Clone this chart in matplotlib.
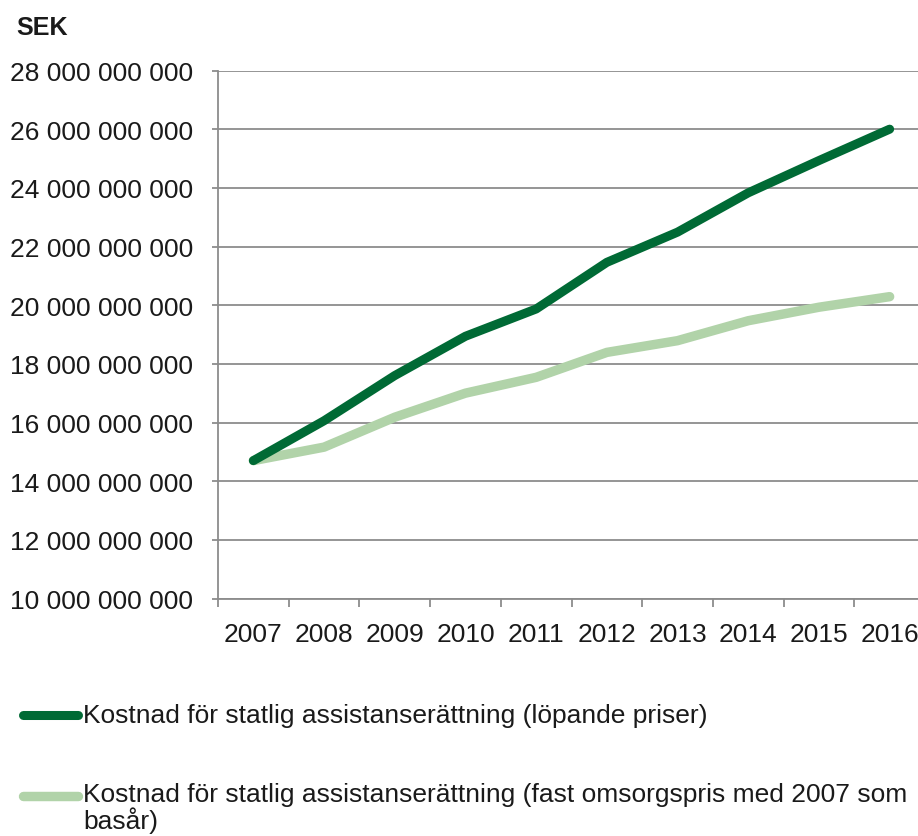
import matplotlib
matplotlib.use("Agg")
import matplotlib.pyplot as plt
from matplotlib.ticker import FuncFormatter, FixedLocator
from matplotlib.lines import Line2D

plt.rcParams['font.family'] = ['Liberation Sans', 'DejaVu Sans']

years = ["2007", "2008", "2009", "2010", "2011", "2012", "2013", "2014", "2015", "2016"]
lopande = [14.70e9, 16.06e9, 17.60e9, 18.94e9, 19.87e9, 21.46e9, 22.49e9, 23.83e9, 24.93e9, 26.00e9]
fast = [14.70e9, 15.16e9, 16.18e9, 17.00e9, 17.54e9, 18.39e9, 18.79e9, 19.47e9, 19.93e9, 20.29e9]
label_lopande = "Kostnad för statlig assistanserättning (löpande priser)"
label_fast = "Kostnad för statlig assistanserättning (fast omsorgspris med 2007 som\nbasår)"
y_title = "SEK"

W, H = 918, 837
fig = plt.figure(figsize=(W / 100, H / 100), dpi=100)
ax = fig.add_axes([218 / W, 1 - 599.5 / H, (925 - 218) / W, 528 / H])

dark = "#006a35"
light = "#b1d3a9"
grid = "#8c8c8c"
fs = 19.0

x = list(range(len(years)))
ax.plot(x, lopande, color=dark, lw=6.5, solid_capstyle='round', solid_joinstyle='round', zorder=3)
ax.plot(x, fast, color=light, lw=6.8, solid_capstyle='round', solid_joinstyle='round', zorder=2)

ax.set_xlim(-0.5, len(years) - 0.5)
ax.set_ylim(10e9, 28e9)
ax.set_yticks([10e9 + 2e9 * i for i in range(10)])
ax.yaxis.set_major_formatter(FuncFormatter(lambda v, p: f"{v:,.0f}".replace(",", " ")))
ax.grid(axis='y', color=grid, lw=1.3)
ax.set_axisbelow(True)

ax.set_xticks(x)
ax.set_xticklabels(years)
ax.xaxis.set_minor_locator(FixedLocator([i - 0.5 for i in range(len(years) + 1)]))
ax.tick_params(axis='x', which='major', length=0, pad=17, labelsize=fs, colors='#1a1a1a')
ax.tick_params(axis='x', which='minor', length=6, width=1.3, color=grid)
ax.tick_params(axis='y', length=4, width=1.3, color=grid, pad=14, labelsize=fs, labelcolor='#1a1a1a')

for s in ['top', 'right']:
    ax.spines[s].set_visible(False)
for s in ['left', 'bottom']:
    ax.spines[s].set_color(grid)
    ax.spines[s].set_linewidth(1.3)

fig.text(16 / W, 1 - 28 / H, y_title, fontsize=fs * 0.95, fontweight='bold', va='center', ha='left', color='#1a1a1a')

# legend
def leg(yc, color, lw):
    fig.add_artist(Line2D([23 / W, 78 / W], [1 - yc / H, 1 - yc / H], transform=fig.transFigure,
                          color=color, lw=lw, solid_capstyle='round'))

leg(716, dark, 6.5)
leg(797, light, 6.8)
fig.text(83 / W, 1 - 716 / H, label_lopande, fontsize=fs, va='center', ha='left', color='#1a1a1a')
fig.text(83 / W, 1 - 783 / H, label_fast, fontsize=fs, va='top', ha='left', color='#1a1a1a', linespacing=1.0)

fig.savefig("out.png", dpi=100)
